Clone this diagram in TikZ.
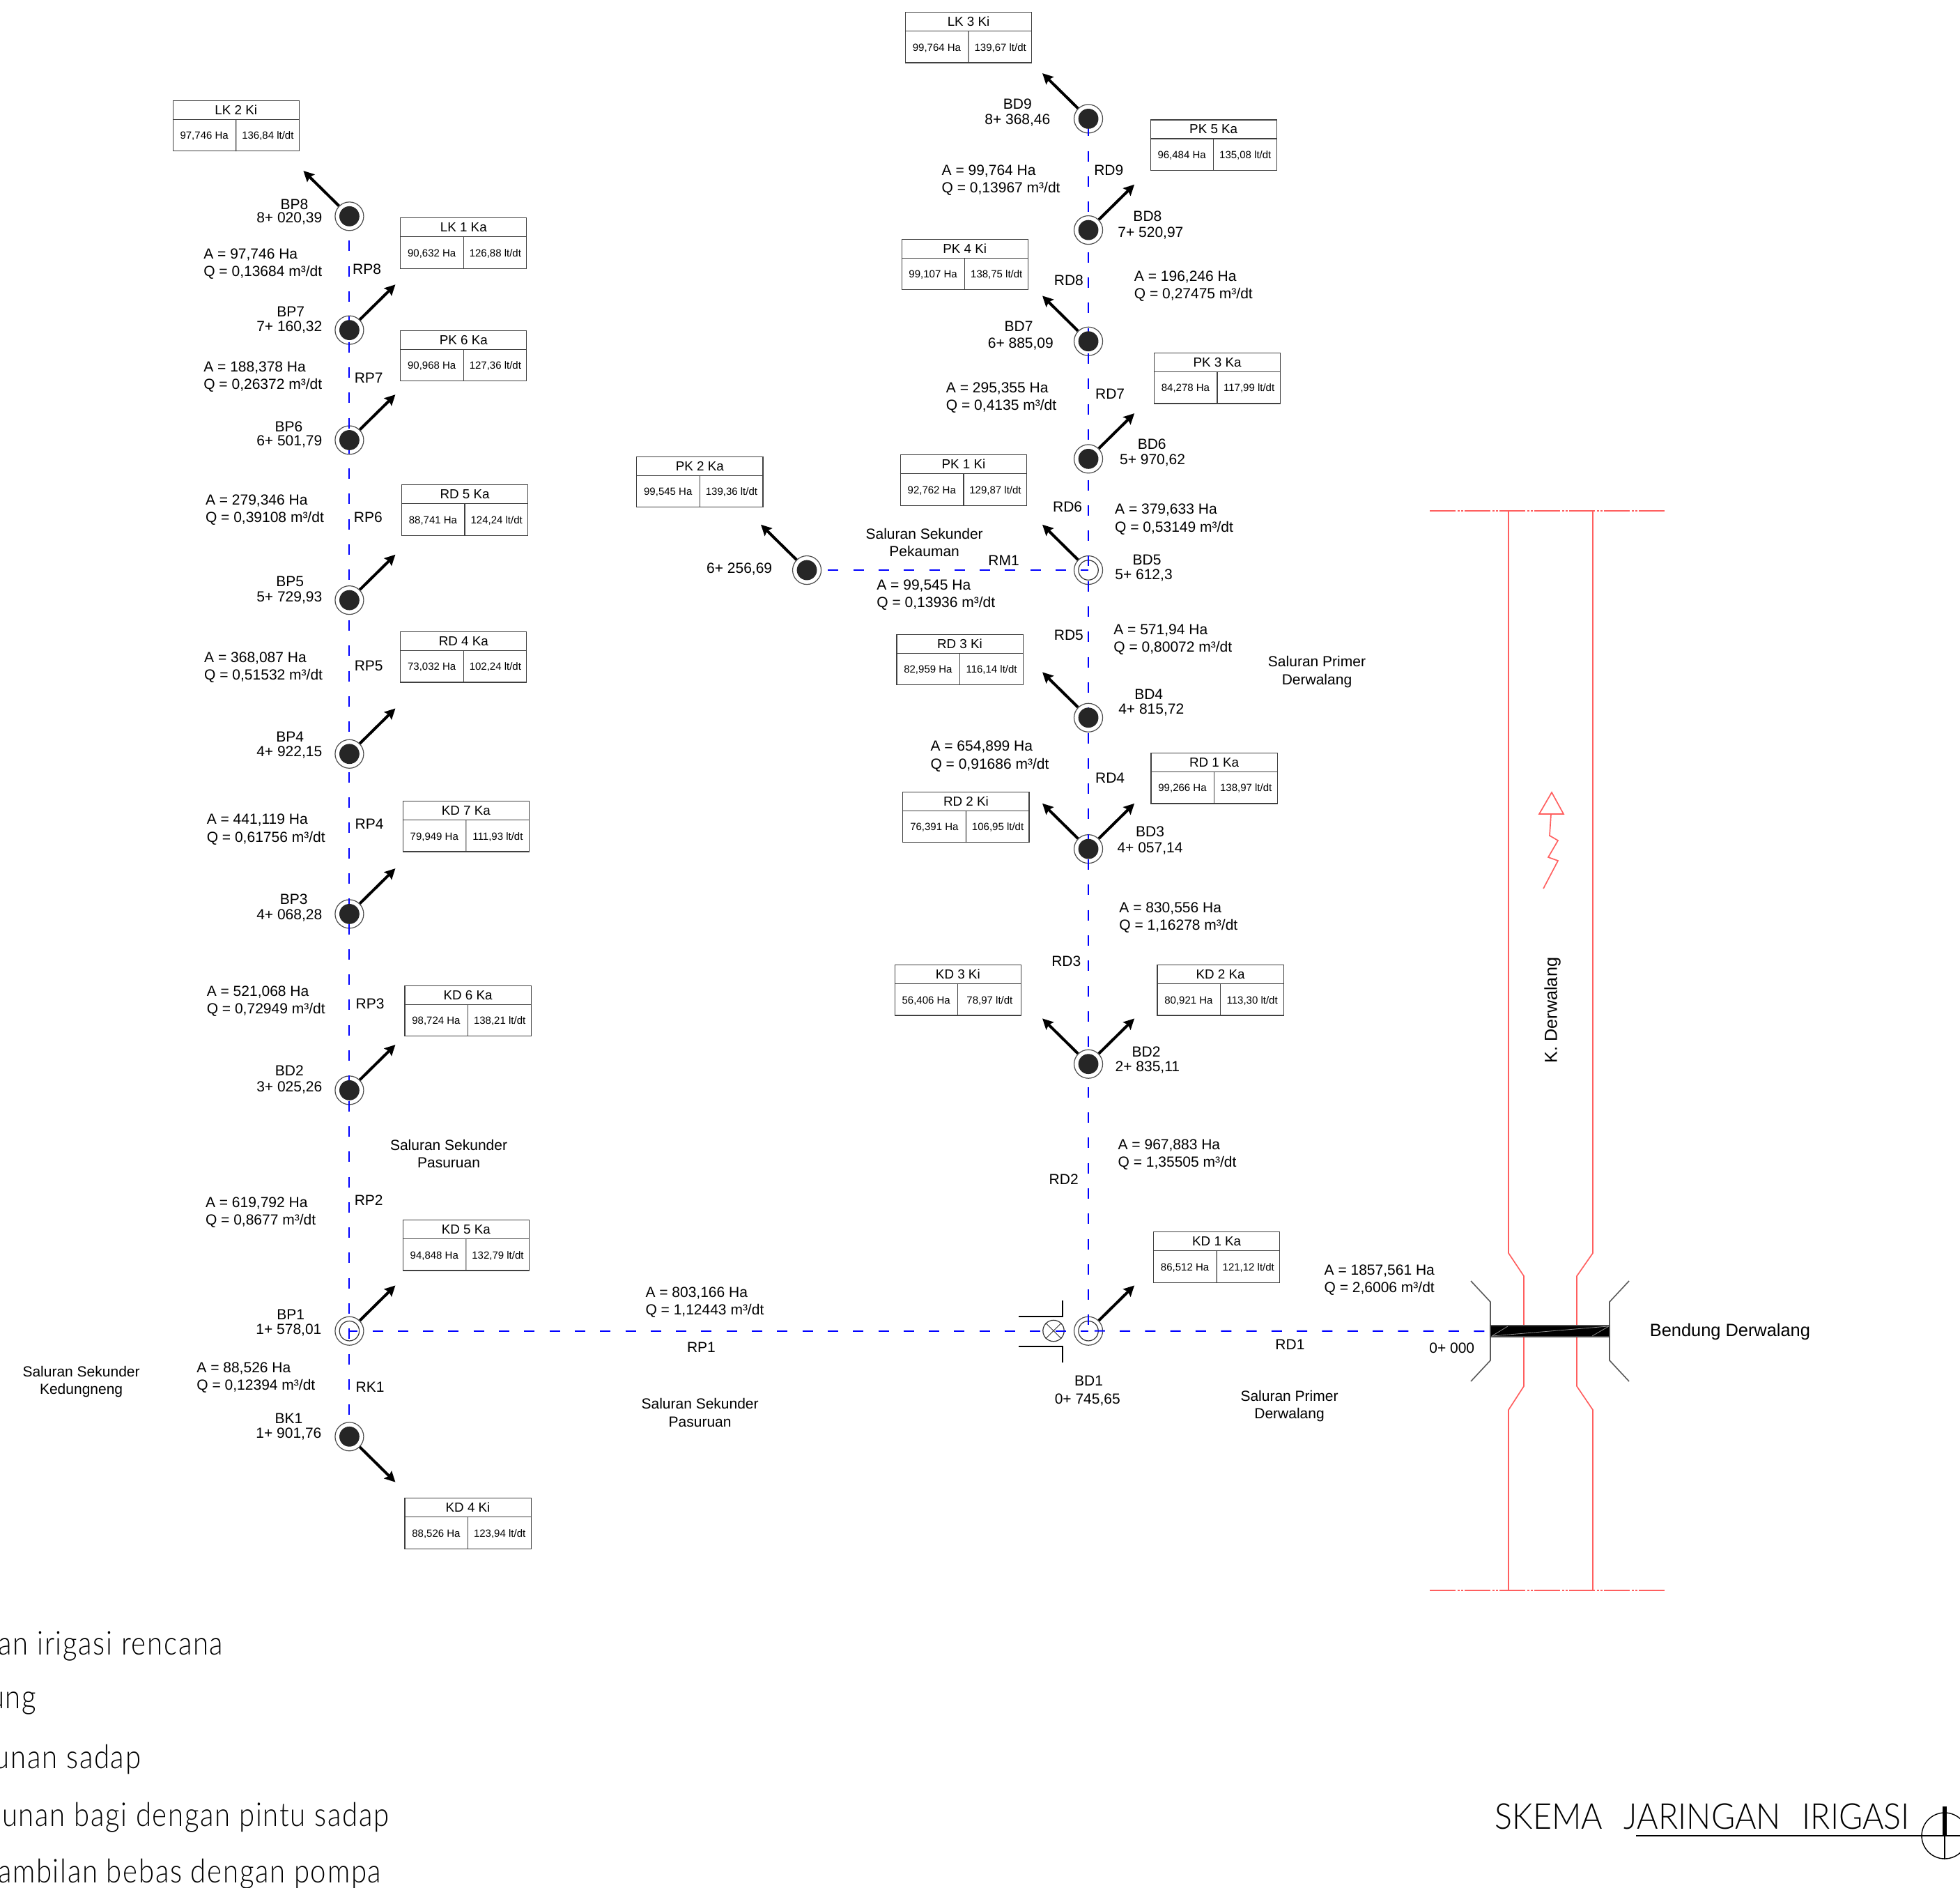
\documentclass[tikz,border=0pt]{standalone}
\usepackage{fontspec}
\setmainfont{Liberation Sans}
\newfontfamily\thinfont[FakeStretch=0.91]{Lato Light}
\newfontfamily\legendfont[FakeStretch=0.85,LetterSpace=3.6]{Lato Light}
\usetikzlibrary{arrows.meta,calc}
\definecolor{riverred}{RGB}{255,95,95}
\definecolor{wallgray}{RGB}{90,90,90}
\tikzset{
  txt/.style={inner sep=0pt,font=\fontsize{5.25}{6.28}\selectfont,text height=3.8pt,text depth=0pt},
  aq/.style={inner sep=0pt,anchor=west,align=left,yshift=-0.4pt,font=\fontsize{5.25}{6.28}\selectfont},
  twoline/.style={inner sep=0pt,align=center,yshift=-0.4pt,font=\fontsize{5.25}{6.28}\selectfont},
  bigtxt/.style={inner sep=0pt,font=\fontsize{6.3}{7.5}\selectfont},
  boxouter/.style={draw=black!75,line width=0.3pt,inner sep=0pt,anchor=north west,minimum width=45.3pt,minimum height=18.1pt},
  boxrule/.style={draw=black!75,line width=0.3pt},
  boxtitle/.style={inner sep=0pt,font=\fontsize{4.7}{5.5}\selectfont,text height=3.4pt,text depth=0pt},
  boxval/.style={inner sep=0pt,font=\fontsize{3.75}{4.5}\selectfont,text height=2.7pt,text depth=0pt},
  baseround/.style={circle,draw=black!70,line width=0.3pt,inner sep=0pt,minimum size=10.25pt},
  filledgate/.style={baseround},
  opengate/.style={baseround,path picture={\draw[black!80,line width=0.3pt] (path picture bounding box.center) circle (3.55pt);}},
  gatecore/.style={fill=black!85},
  canal/.style={draw=blue,line width=0.5pt,dash pattern=on 3.75pt off 5.325pt},
  tapline/.style={draw=black,line width=1pt,-{Stealth[length=3.8pt,width=3.8pt,inset=0.6pt]}},
  river/.style={draw=riverred,line width=0.42pt,line join=miter},
  centerline/.style={draw=riverred,line width=0.42pt,dash pattern=on 9.3pt off 0.8pt on 0.6pt off 0.6pt on 0.6pt off 0.6pt},
  wall/.style={draw=wallgray,line width=0.4pt},
  thinline/.style={draw=black,line width=0.3pt},
  legendtxt/.style={inner sep=0pt,anchor=base east,font=\fontsize{11.8}{14}\legendfont},
}
\newcommand\Tx[3]{\node[txt] (#1) at (#2) {#3};}
\newcommand\AQ[4]{\node[aq] (#1) at (#2) {A = #3 Ha\\Q = #4 m³/dt};}
\newcommand\Bx[5]{%
  \node[boxouter] (#1) at (#2) {};
  \coordinate (#1hl) at ($(#1.north west)!0.375!(#1.south west)$);
  \coordinate (#1hr) at ($(#1.north east)!0.375!(#1.south east)$);
  \coordinate (#1m) at ($(#1hl)!0.5!(#1hr)$);
  \coordinate (#1b) at ($(#1.south west)!0.5!(#1.south east)$);
  \draw[boxrule] (#1hl) -- (#1hr);
  \draw[boxrule] (#1m) -- (#1b);
  \node[boxtitle] (#1t) at ($(#1.north west)!0.5!(#1hr)$) {#3};
  \node[boxval] (#1a) at ($(#1hl)!0.5!(#1b)$) {#4 Ha};
  \node[boxval] (#1q) at ($(#1m)!0.5!(#1.south east)$) {#5 lt/dt};
}
\newcommand\TapNE[1]{\path (#1.center) ++(36.8,-36.4) coordinate (#1ne); \draw[tapline] (#1.north east) -- (#1ne);}
\newcommand\TapNW[1]{\path (#1.center) ++(-36.8,-36.4) coordinate (#1nw); \draw[tapline] (#1.north west) -- (#1nw);}
\newcommand\TapSE[1]{\path (#1.center) ++(36.8,36.4) coordinate (#1se); \draw[tapline] (#1.south east) -- (#1se);}
\begin{document}
\begin{tikzpicture}[x=0.4485pt,y=-0.4485pt]
\useasboundingbox (0,0) rectangle (1568,1509.5);
% river and weir, full-size pixel coordinates
\begin{scope}[x=0.25pt,y=-0.25pt]
  \draw[river] (2165,733) -- (2165,1798) -- (2187,1831) -- (2187,1989) -- (2165,2023) -- (2165,2282);
  \draw[river] (2286,733) -- (2286,1798) -- (2263,1831) -- (2263,1989) -- (2286,2023) -- (2286,2282);
  \draw[centerline] (2052,733) -- (2391,733);
  \draw[centerline] (2052,2282) -- (2391,2282);
  \draw[river] (2226,1168) -- (2224,1199) -- (2236,1206) -- (2222,1230) -- (2236,1235) -- (2215,1275);
  \draw[river] (2227,1137) -- (2209,1168) -- (2244,1168) -- cycle;
  \draw[wall] (2111,1838) -- (2139,1868) -- (2139,1952) -- (2111,1982);
  \draw[wall] (2338,1838) -- (2310,1868) -- (2310,1952) -- (2338,1982);
  \node[draw=black!70,fill=black,line width=0.3pt,inner sep=0pt,minimum width=42.75pt,minimum height=4pt] (weir) at (2224.5,1910) {};
  \draw[black!45,line width=0.2pt] (2141,1917) -- (2164,1903) (2141,1917) -- (2308,1903) (2285,1917) -- (2309,1903);
  % sluice beside BD1
  \draw[thinline] (1462,1889) -- (1525,1889) -- (1525,1866);
  \draw[thinline] (1462,1932) -- (1525,1932) -- (1525,1955);
  \node[circle,draw=black!80,line width=0.3pt,inner sep=0pt,minimum size=7.6pt] (sluice) at (1512,1909.5) {};
  \draw[black!80,line width=0.25pt] (sluice.north west) -- (sluice.south east) (sluice.north east) -- (sluice.south west);
  % title block
  \node[inner sep=0pt,anchor=base west,font=\fontsize{12.8}{15}\thinfont] (title) at (2145,2624) {SKEMA\hspace{0.6em}JARINGAN\hspace{0.6em}IRIGASI};
  \coordinate (northc) at (2791,2634);
  \coordinate (ruleend) at (2813,2634);
  \coordinate (rulestart) at (2348,2634);
  \draw[black,line width=0.5pt] (rulestart) -- (ruleend);
  \draw[black,line width=0.35pt] (northc) circle (33);
  \draw[black,line width=1.5pt] (2791,2592) -- (northc);
  \draw[black,line width=0.35pt] (northc) -- (2791,2668);
  % legend
  \node[legendtxt] (leg1) at (321,2374) {an irigasi rencana};
  \node[legendtxt] (leg2) at (53,2451) {ung};
  \node[legendtxt] (leg3) at (203,2537) {unan sadap};
  \node[legendtxt] (leg4) at (559,2620) {unan bagi dengan pintu sadap};
  \node[legendtxt] (leg5) at (548,2701) {ambilan bebas dengan pompa};
\end{scope}
% gates, left column
\node[filledgate] (P8) at (279.5,173) {};
\node[filledgate] (P7) at (279.5,264) {};
\node[filledgate] (P6) at (279.5,352) {};
\node[filledgate] (P5) at (279.5,480) {};
\node[filledgate] (P4) at (279.5,603) {};
\node[filledgate] (P3) at (279.5,731) {};
\node[filledgate] (P2) at (279.5,872) {};
\node[opengate] (P1) at (279.5,1064.5) {};
\node[filledgate] (K1) at (279.5,1149) {};
% gates, right column
\node[filledgate] (D9) at (870.7,95) {};
\node[filledgate] (D8) at (870.7,184) {};
\node[filledgate] (D7) at (870.7,273) {};
\node[filledgate] (D6) at (870.7,367) {};
\node[opengate] (D5) at (870.7,456) {};
\node[filledgate] (D4) at (870.7,574) {};
\node[filledgate] (D3) at (870.7,679) {};
\node[filledgate] (D2) at (870.7,851) {};
\node[opengate] (D1) at (870.7,1064.5) {};
\node[filledgate] (M1) at (645.5,456) {};
% canals
\draw[canal,dash phase=0.3pt] (P8.center) -- (P7.center) -- (P6.center) -- (P5.center) -- (P4.center) -- (P3.center) -- (P2.center) -- (P1.center) -- (K1.center);
\draw[canal,dash phase=6.6pt] (D9.center) -- (D8.center) -- (D7.center) -- (D6.center) -- (D5.center) -- (D4.center) -- (D3.center) -- (D2.center) -- (D1.center);
\draw[canal,dash phase=0.8pt] (P1.center) -- (D1.center);
\draw[canal,dash phase=6.9pt] (D1.center) -- (weir.west);
\draw[canal,dash phase=1.5pt] (M1.center) -- (D5.center);
% solid cores of the filled gates, over the canal lines
\foreach \g in {P8,P7,P6,P5,P4,P3,P2,K1,D9,D8,D7,D6,D4,D3,D2,M1}
  \path[gatecore] (\g.center) circle [radius=3.6pt];
% offtakes
\TapNW{P8}\TapNE{P7}\TapNE{P6}\TapNE{P5}\TapNE{P4}\TapNE{P3}\TapNE{P2}\TapNE{P1}\TapSE{K1}
\TapNW{D9}\TapNE{D8}\TapNW{D7}\TapNE{D6}\TapNW{D5}\TapNW{D4}\TapNW{D3}\TapNE{D3}\TapNW{D2}\TapNE{D2}\TapNE{D1}\TapNW{M1}
% tertiary boxes
\Bx{b1}{138,80}{LK 2 Ki}{97,746}{136,84}
\Bx{b2}{320,174}{LK 1 Ka}{90,632}{126,88}
\Bx{b3}{320,264}{PK 6 Ka}{90,968}{127,36}
\Bx{b4}{321,387.5}{RD 5 Ka}{88,741}{124,24}
\Bx{b5}{320,505}{RD 4 Ka}{73,032}{102,24}
\Bx{b6}{322,640.5}{KD 7 Ka}{79,949}{111,93}
\Bx{b7}{323.5,788}{KD 6 Ka}{98,724}{138,21}
\Bx{b8}{322,975.5}{KD 5 Ka}{94,848}{132,79}
\Bx{b9}{323.5,1198}{KD 4 Ki}{88,526}{123,94}
\Bx{c1}{724,9.5}{LK 3 Ki}{99,764}{139,67}
\Bx{c2}{920,95.5}{PK 5 Ka}{96,484}{135,08}
\Bx{c3}{721,191}{PK 4 Ki}{99,107}{138,75}
\Bx{c4}{923,282}{PK 3 Ka}{84,278}{117,99}
\Bx{c5}{509,365}{PK 2 Ka}{99,545}{139,36}
\Bx{c6}{720,363.5}{PK 1 Ki}{92,762}{129,87}
\Bx{c7}{717,507}{RD 3 Ki}{82,959}{116,14}
\Bx{c8}{920.5,602}{RD 1 Ka}{99,266}{138,97}
\Bx{c9}{722,633}{RD 2 Ki}{76,391}{106,95}
\Bx{c10}{715.5,771.5}{KD 3 Ki}{56,406}{78,97}
\Bx{c11}{925.5,771.5}{KD 2 Ka}{80,921}{113,30}
\Bx{c12}{922.5,985}{KD 1 Ka}{86,512}{121,12}
% area and discharge
\AQ{q1}{162.5,210}{97,746}{0,13684}
\AQ{q2}{162.5,300.5}{188,378}{0,26372}
\AQ{q3}{164,407}{279,346}{0,39108}
\AQ{q4}{163,533}{368,087}{0,51532}
\AQ{q5}{165,662.5}{441,119}{0,61756}
\AQ{q6}{165,800}{521,068}{0,72949}
\AQ{q7}{164,969}{619,792}{0,8677}
\AQ{q8}{157,1101}{88,526}{0,12394}
\AQ{q9}{516,1040.5}{803,166}{1,12443}
\AQ{r1}{753,143.5}{99,764}{0,13967}
\AQ{r2}{907,228}{196,246}{0,27475}
\AQ{r3}{756.5,317}{295,355}{0,4135}
\AQ{r4}{891.5,414.5}{379,633}{0,53149}
\AQ{r5}{701,475}{99,545}{0,13936}
\AQ{r6}{890.5,510.5}{571,94}{0,80072}
\AQ{r7}{744,604}{654,899}{0,91686}
\AQ{r8}{895,733}{830,556}{1,16278}
\AQ{r9}{894,922.5}{967,883}{1,35505}
\AQ{r10}{1059,1023}{1857,561}{2,6006}
% structure names and stations
\Tx{n1}{235.5,163}{BP8}\Tx{s1}{231.5,174}{8+ 020,39}
\Tx{n2}{232.5,249}{BP7}\Tx{s2}{231.5,261}{7+ 160,32}
\Tx{n3}{231,341}{BP6}\Tx{s3}{231.5,352}{6+ 501,79}
\Tx{n4}{232,465}{BP5}\Tx{s4}{231.5,477}{5+ 729,93}
\Tx{n5}{232,589}{BP4}\Tx{s5}{231.5,601}{4+ 922,15}
\Tx{n6}{235,719}{BP3}\Tx{s6}{231.5,731}{4+ 068,28}
\Tx{n7}{231.5,856}{BD2}\Tx{s7}{231.5,869}{3+ 025,26}
\Tx{n8}{232.5,1051}{BP1}\Tx{s8}{231,1063}{1+ 578,01}
\Tx{n9}{231,1134}{BK1}\Tx{s9}{231,1146}{1+ 901,76}
\Tx{m1}{814,83}{BD9}\Tx{t1}{814,95}{8+ 368,46}
\Tx{m2}{918,173}{BD8}\Tx{t2}{920.5,185.5}{7+ 520,97}
\Tx{m3}{815,261}{BD7}\Tx{t3}{816.5,274}{6+ 885,09}
\Tx{m4}{921.5,355}{BD6}\Tx{t4}{922,367.5}{5+ 970,62}
\Tx{m5}{917.5,447.5}{BD5}\Tx{t5}{915,459}{5+ 612,3}
\Tx{m6}{919,555}{BD4}\Tx{t6}{921,567}{4+ 815,72}
\Tx{m7}{920,665}{BD3}\Tx{t7}{920,677.5}{4+ 057,14}
\Tx{m8}{917,841}{BD2}\Tx{t8}{918,853}{2+ 835,11}
\Tx{m9}{871,1104}{BD1}\Tx{t9}{870,1118.5}{0+ 745,65}
\Tx{t10}{591.5,454}{6+ 256,69}
\Tx{t11}{1161.5,1078}{0+ 000}
% reach names
\Tx{e1}{293.5,215}{RP8}\Tx{e2}{295,302}{RP7}\Tx{e3}{294.5,413.5}{RP6}\Tx{e4}{295,532}{RP5}
\Tx{e5}{295.5,659}{RP4}\Tx{e6}{296,802.5}{RP3}\Tx{e7}{295,960}{RP2}\Tx{e8}{296,1109}{RK1}
\Tx{e9}{561,1077.5}{RP1}
\Tx{f1}{887,136}{RD9}\Tx{f2}{855,224}{RD8}\Tx{f3}{888,315}{RD7}\Tx{f4}{854,405}{RD6}
\Tx{f5}{803,448}{RM1}\Tx{f6}{855,508}{RD5}\Tx{f7}{888,622}{RD4}\Tx{f8}{853,768.5}{RD3}
\Tx{f9}{851,943}{RD2}\Tx{f10}{1032,1075}{RD1}
% canal names
\node[twoline] (g1) at (359,922) {Saluran Sekunder\\Pasuruan};
\node[twoline] (g2) at (65,1104) {Saluran Sekunder\\Kedungneng};
\node[twoline] (g3) at (560,1129) {Saluran Sekunder\\Pasuruan};
\node[twoline] (g4) at (1031.5,1123.5) {Saluran Primer\\Derwalang};
\node[twoline] (g5) at (1053.5,536.5) {Saluran Primer\\Derwalang};
\node[twoline] (g6) at (739.5,433) {Saluran Sekunder\\Pekauman};
\node[bigtxt,rotate=90] (g7) at (1242,808) {K. Derwalang};
\node[inner sep=0pt,font=\fontsize{6.35}{8}\selectfont] (g8) at (1384,1065) {Bendung Derwalang};
\end{tikzpicture}
\end{document}
